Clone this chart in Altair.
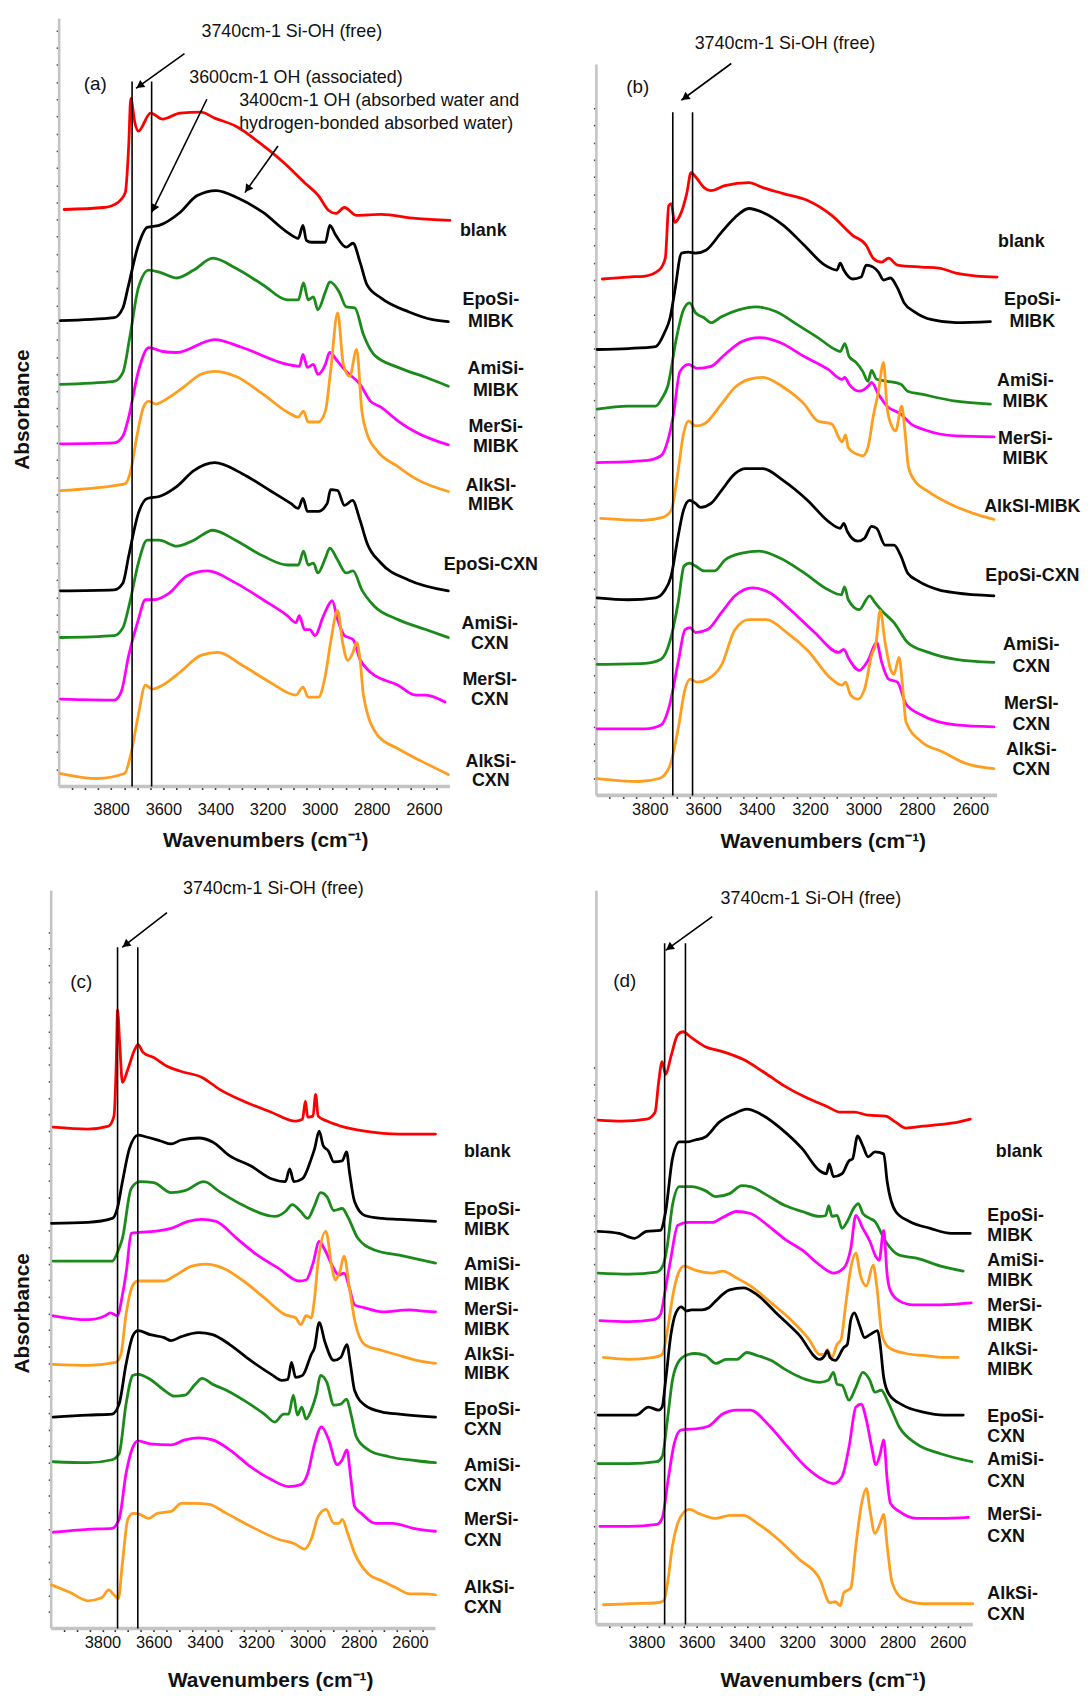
import math
import altair as alt
import pandas as pd

FONT = "Liberation Sans"

SERIES = ["blank", "EpoSi-MIBK", "AmiSi-MIBK", "MerSi-MIBK", "AlkSi-MIBK",
          "EpoSi-CXN", "AmiSi-CXN", "MerSi-CXN", "AlkSi-CXN"]
COLORS = ["#ff0000", "#000000", "#1a8a1a", "#ff00ff", "#ff9d1e",
          "#000000", "#1a8a1a", "#ff00ff", "#ff9d1e"]

# ---------------- panel (a) spectra: (wavenumber, absorbance a.u. incl. offset) ----------------
A_BLANK = [(3981,58.1),(3829,58.3),(3775,58.8),(3746,59.8),(3733,64.5),(3725,69.3),(3709,66.8),(3696,66.0),(3649,67.8),(3603,67.2),(3536,67.8),(3456,67.9),(3403,67.3),(3323,66.5),(3230,64.8),(3137,62.8),(3058,60.8),(3005,59.5),(2965,58.0),(2938,57.7),(2905,58.3),(2858,57.5),(2765,57.6),(2632,57.2),(2500,57.0)]
A_EPO_MIBK = [(3995,46.9),(3789,47.2),(3755,48.2),(3736,50.2),(3696,54.5),(3662,56.3),(3616,56.5),(3536,57.8),(3470,59.5),(3397,60.0),(3310,59.2),(3217,57.8),(3124,55.8),(3082,55.2),(3064,56.5),(3051,55.0),(3031,54.8),(2978,54.8),(2961,56.5),(2938,55.5),(2898,54.3),(2872,54.7),(2845,52.8),(2818,50.5),(2765,49.2),(2659,47.8),(2566,47.0),(2506,46.8)]
A_AMI_MIBK = [(3995,40.5),(3789,40.8),(3755,41.7),(3729,45.2),(3696,50.2),(3656,52.0),(3616,51.8),(3549,51.2),(3483,52.0),(3410,53.2),(3323,52.2),(3217,50.5),(3124,49.0),(3082,49.0),(3062,50.7),(3044,49.0),(3024,49.3),(3007,48.0),(2978,49.8),(2961,50.8),(2925,49.8),(2898,48.3),(2865,48.2),(2832,45.5),(2792,43.5),(2699,42.2),(2593,41.2),(2506,40.3)]
A_MER_MIBK = [(3995,34.5),(3789,34.6),(3755,35.3),(3733,37.2),(3696,41.8),(3656,44.2),(3603,43.8),(3549,43.7),(3403,45.0),(3297,44.2),(3124,42.5),(3078,42.3),(3064,43.5),(3047,42.2),(3024,42.5),(3007,41.5),(2978,42.5),(2962,43.7),(2931,42.8),(2898,41.8),(2845,40.5),(2805,38.8),(2765,38.2),(2699,36.8),(2632,35.7),(2506,34.4)]
A_ALK_MIBK = [(3995,29.8),(3789,30.3),(3746,30.5),(3725,31.8),(3702,35.2),(3676,38.2),(3656,38.8),(3629,38.5),(3589,39.0),(3523,40.2),(3456,41.5),(3403,41.8),(3323,41.3),(3217,39.5),(3124,37.7),(3082,37.2),(3062,37.8),(3044,36.7),(3005,36.7),(2978,37.8),(2958,41.8),(2931,47.7),(2909,42.5),(2885,41.3),(2858,44.0),(2838,37.8),(2818,35.5),(2779,33.8),(2699,32.2),(2632,31.0),(2506,29.7)]
A_EPO_CXN = [(3995,19.7),(3789,19.8),(3755,20.5),(3733,23.2),(3696,27.5),(3662,29.0),(3616,29.2),(3549,30.2),(3483,31.8),(3403,32.6),(3297,31.5),(3191,29.8),(3111,28.5),(3082,28.0),(3064,29.0),(3047,27.7),(3005,27.7),(2971,28.5),(2958,29.9),(2931,29.8),(2905,28.3),(2874,28.8),(2845,26.8),(2818,24.5),(2765,22.5),(2659,20.8),(2506,19.7)]
A_AMI_CXN = [(3995,15.0),(3789,15.2),(3755,16.0),(3729,18.5),(3696,22.5),(3662,24.8),(3616,24.8),(3549,24.2),(3483,24.8),(3410,25.8),(3323,24.8),(3217,23.2),(3124,22.3),(3082,22.3),(3062,23.7),(3044,22.3),(3024,22.5),(3007,21.5),(2978,23.0),(2961,24.0),(2931,22.8),(2898,21.5),(2872,21.7),(2838,19.8),(2792,18.2),(2699,16.8),(2593,15.8),(2506,15.0)]
A_MER_CXN = [(3995,8.8),(3789,8.7),(3762,9.5),(3733,13.2),(3696,16.8),(3669,18.8),(3636,18.8),(3576,19.5),(3510,21.2),(3430,21.7),(3323,20.5),(3217,18.8),(3124,17.2),(3091,16.5),(3078,17.2),(3058,15.8),(3038,15.8),(3018,15.2),(2985,17.2),(2952,18.7),(2931,16.8),(2905,15.2),(2872,14.8),(2845,12.8),(2805,11.5),(2699,10.2),(2632,9.2),(2593,9.2),(2519,8.5)]
A_ALK_CXN = [(3995,1.3),(3855,0.8),(3749,1.3),(3725,3.2),(3696,7.2),(3669,10.2),(3642,9.8),(3603,10.2),(3536,11.5),(3456,13.2),(3390,13.5),(3297,12.2),(3191,10.5),(3091,9.2),(3064,10.0),(3044,9.0),(3005,9.0),(2978,11.2),(2958,14.5),(2931,17.7),(2912,14.5),(2892,12.7),(2872,13.5),(2858,14.5),(2845,12.8),(2832,9.2),(2779,5.2),(2699,3.8),(2606,2.5),(2506,1.2)]

# ---------------- panel (b) ----------------
B_BLANK = [(3978,52.0),(3881,52.2),(3817,52.3),(3765,52.9),(3742,54.1),(3729,59.4),(3720,59.6),(3707,57.7),(3687,58.4),(3661,60.7),(3646,62.7),(3623,62.1),(3597,61.2),(3571,60.9),(3519,61.4),(3429,61.7),(3377,61.2),(3300,60.6),(3209,59.9),(3119,58.4),(3041,56.4),(2990,55.4),(2964,54.1),(2932,53.7),(2906,54.1),(2873,53.4),(2783,53.2),(2718,53.1),(2654,52.6),(2576,52.3),(2500,52.2)]
B_EPO_MIBK = [(3997,44.9),(3881,45.0),(3778,45.2),(3745,46.6),(3724,48.1),(3707,50.7),(3681,54.6),(3655,54.7),(3629,54.6),(3590,54.9),(3532,56.7),(3481,58.2),(3429,59.1),(3377,58.7),(3300,57.4),(3222,55.4),(3145,53.4),(3100,52.9),(3087,53.6),(3074,52.9),(3041,52.0),(3009,52.2),(2990,53.4),(2964,53.2),(2944,52.7),(2925,51.9),(2899,52.1),(2873,51.1),(2848,49.6),(2809,48.7),(2744,47.9),(2654,47.6),(2525,47.7)]
B_AMI_MIBK = [(3997,38.9),(3881,39.2),(3778,39.2),(3752,40.1),(3733,41.2),(3700,46.1),(3674,48.9),(3651,49.6),(3629,48.6),(3597,48.1),(3571,47.6),(3532,48.2),(3468,48.9),(3403,49.2),(3326,48.7),(3248,47.4),(3171,46.1),(3106,44.9),(3087,44.7),(3070,45.5),(3054,44.2),(3028,43.6),(3003,42.7),(2983,41.7),(2970,42.8),(2951,41.9),(2912,41.7),(2860,41.4),(2835,40.7),(2783,40.4),(2654,39.7),(2525,39.4)]
B_MER_MIBK = [(3997,33.5),(3817,33.7),(3758,34.2),(3733,35.7),(3713,38.1),(3687,42.7),(3655,43.4),(3623,43.0),(3571,43.2),(3519,44.4),(3455,45.7),(3390,46.1),(3313,45.6),(3222,44.2),(3132,42.9),(3080,41.9),(3070,42.1),(3054,41.4),(3016,40.7),(2983,41.2),(2970,41.6),(2944,40.4),(2912,39.2),(2860,38.4),(2822,37.4),(2770,36.8),(2654,36.2),(2512,36.1)]
B_ALK_MIBK = [(3984,27.9),(3829,27.7),(3752,28.0),(3720,28.7),(3694,32.7),(3674,36.4),(3655,37.7),(3629,37.2),(3597,37.4),(3532,39.4),(3481,41.1),(3429,41.9),(3377,42.1),(3300,41.1),(3222,39.4),(3171,37.7),(3119,37.4),(3080,35.6),(3067,36.3),(3057,35.0),(3028,34.4),(3003,34.2),(2983,35.1),(2964,38.1),(2944,40.7),(2925,43.6),(2912,39.1),(2893,37.1),(2880,36.7),(2857,39.2),(2845,36.7),(2832,33.1),(2809,31.7),(2757,30.6),(2680,29.4),(2589,28.4),(2512,27.8)]
B_EPO_CXN = [(3997,19.9),(3881,19.7),(3778,19.9),(3745,20.6),(3720,22.1),(3694,26.1),(3674,28.7),(3651,29.7),(3629,29.4),(3610,29.0),(3571,29.4),(3532,30.7),(3481,32.4),(3442,32.9),(3377,32.9),(3300,31.7),(3209,29.7),(3132,27.6),(3087,26.9),(3074,27.4),(3061,26.6),(3022,25.6),(2996,25.9),(2970,27.1),(2951,26.9),(2919,25.2),(2886,25.2),(2860,24.1),(2835,22.4),(2796,21.6),(2718,20.7),(2654,20.4),(2512,20.1)]
B_AMI_CXN = [(3997,13.2),(3817,13.3),(3758,13.7),(3726,15.4),(3694,19.4),(3672,23.1),(3651,23.4),(3629,23.1),(3597,22.6),(3558,22.6),(3519,23.7),(3455,24.4),(3390,24.6),(3313,23.9),(3222,22.4),(3132,20.7),(3083,20.2),(3071,21.0),(3057,19.7),(3016,18.7),(2977,20.1),(2957,19.4),(2932,18.6),(2886,17.4),(2835,15.4),(2757,14.4),(2654,13.7),(2512,13.4)]
B_MER_CXN = [(3997,6.7),(3817,6.7),(3758,7.1),(3726,9.1),(3694,13.4),(3668,16.7),(3649,16.9),(3629,16.4),(3584,16.7),(3532,18.4),(3481,20.1),(3416,20.9),(3351,20.4),(3274,18.7),(3183,16.4),(3093,14.4),(3074,14.7),(3054,13.7),(3016,12.6),(2983,13.6),(2951,15.4),(2932,13.4),(2906,11.7),(2873,11.4),(2841,9.2),(2783,8.1),(2654,7.1),(2512,6.9)]
B_ALK_CXN = [(3997,1.7),(3842,1.4),(3765,1.7),(3726,2.9),(3694,6.7),(3668,10.7),(3649,11.7),(3623,11.4),(3584,11.7),(3532,13.1),(3481,16.7),(3429,17.7),(3364,17.7),(3287,16.4),(3209,14.6),(3119,11.7),(3080,11.1),(3067,11.4),(3048,10.1),(3022,9.7),(2996,10.7),(2970,14.1),(2953,15.4),(2938,18.6),(2919,15.4),(2899,12.7),(2886,12.2),(2867,13.9),(2854,11.1),(2841,7.4),(2783,5.4),(2705,4.4),(2615,3.2),(2512,2.7)]

# ---------------- panel (c) ----------------
C_BLANK = [(3992,50.5),(3857,50.3),(3776,50.6),(3755,51.6),(3746,57.0),(3741,62.3),(3732,58.6),(3722,55.0),(3701,56.3),(3674,58.3),(3661,58.8),(3641,58.0),(3600,57.5),(3546,56.6),(3492,56.1),(3411,55.5),(3343,54.3),(3249,53.1),(3141,52.0),(3046,51.1),(3019,51.3),(3008,53.1),(2999,51.5),(2978,51.6),(2968,53.8),(2958,51.6),(2924,51.1),(2870,50.6),(2776,50.1),(2641,49.8),(2500,49.8)]
C_EPO_MIBK = [(3999,40.8),(3857,40.9),(3762,41.3),(3742,42.3),(3722,45.0),(3695,48.3),(3661,49.7),(3628,49.5),(3573,49.1),(3532,48.8),(3492,49.2),(3424,49.4),(3370,49.0),(3303,47.6),(3222,46.6),(3141,45.3),(3086,45.0),(3069,46.3),(3053,45.0),(3019,45.3),(2985,47.3),(2972,48.3),(2954,50.1),(2938,48.6),(2918,48.1),(2897,47.0),(2864,47.1),(2847,48.0),(2836,46.0),(2816,43.0),(2776,41.6),(2708,41.3),(2641,41.2),(2500,41.0)]
C_AMI_MIBK = [(3992,37.0),(3762,37.0),(3738,38.1),(3722,39.3),(3688,44.3),(3654,45.0),(3600,44.9),(3532,43.9),(3478,44.1),(3404,45.0),(3343,44.0),(3249,42.6),(3127,41.5),(3086,42.0),(3059,42.7),(3026,42.0),(2999,41.3),(2972,42.6),(2949,43.9),(2924,43.5),(2897,42.1),(2864,42.3),(2843,41.5),(2803,39.3),(2735,38.1),(2641,37.6),(2500,36.8)]
C_MER_MIBK = [(3992,31.5),(3857,31.1),(3789,31.5),(3769,31.8),(3742,31.5),(3722,33.6),(3705,36.3),(3688,39.8),(3654,39.9),(3600,40.0),(3532,40.3),(3465,41.0),(3411,41.2),(3357,41.0),(3276,39.3),(3195,37.6),(3114,36.3),(3032,35.0),(3005,35.1),(2978,36.8),(2954,39.0),(2931,38.1),(2904,36.6),(2877,35.6),(2857,35.8),(2836,34.3),(2816,32.6),(2776,32.3),(2708,31.9),(2600,32.1),(2559,32.0),(2500,31.9)]
C_ALK_MIBK = [(3992,26.6),(3857,26.5),(3749,26.8),(3728,27.6),(3708,31.6),(3681,34.6),(3661,35.0),(3627,35.0),(3559,35.0),(3519,35.5),(3451,36.5),(3397,36.7),(3330,36.3),(3249,35.0),(3168,33.3),(3086,31.6),(3046,31.3),(3026,30.6),(3005,31.5),(2985,31.3),(2972,33.3),(2958,37.0),(2928,40.0),(2904,36.3),(2891,35.1),(2873,36.0),(2857,37.5),(2836,34.3),(2816,31.1),(2776,28.6),(2708,28.0),(2641,27.5),(2573,27.0),(2500,26.7)]
C_EPO_CXN = [(3992,21.3),(3857,21.5),(3762,21.6),(3735,22.6),(3708,26.6),(3681,29.5),(3661,30.0),(3614,29.6),(3559,29.3),(3532,29.0),(3492,29.4),(3424,29.8),(3370,29.6),(3303,28.6),(3222,27.0),(3141,25.6),(3100,25.0),(3076,25.1),(3062,26.8),(3046,25.3),(3019,25.5),(2985,27.6),(2972,28.3),(2954,30.8),(2931,28.8),(2897,27.0),(2870,27.3),(2846,28.6),(2832,26.6),(2816,24.0),(2776,22.5),(2708,21.8),(2641,21.6),(2500,21.3)]
C_AMI_CXN = [(3992,16.8),(3857,16.7),(3762,17.0),(3735,17.6),(3708,22.6),(3681,25.5),(3661,25.6),(3614,25.1),(3559,24.0),(3519,23.4),(3478,23.5),(3438,24.6),(3411,25.2),(3370,24.6),(3316,24.0),(3249,23.0),(3168,21.6),(3127,20.8),(3093,21.6),(3073,21.6),(3055,23.5),(3039,21.5),(3022,22.3),(3005,21.1),(2985,22.0),(2965,23.6),(2949,25.5),(2924,24.8),(2897,22.5),(2870,22.6),(2847,23.1),(2830,21.6),(2809,19.3),(2762,18.0),(2681,17.3),(2573,16.9),(2500,16.7)]
C_MER_CXN = [(3992,9.7),(3857,10.0),(3762,10.1),(3735,11.0),(3708,15.6),(3681,18.3),(3661,18.9),(3614,18.6),(3532,18.5),(3478,19.0),(3424,19.2),(3370,19.0),(3303,18.0),(3222,16.3),(3141,15.0),(3073,14.3),(3026,14.5),(2999,15.6),(2972,18.6),(2945,20.3),(2918,19.1),(2884,16.5),(2864,17.0),(2846,18.0),(2830,15.0),(2816,12.3),(2789,11.6),(2735,10.6),(2668,10.6),(2586,10.1),(2500,9.8)]
C_ALK_CXN = [(3999,4.4),(3924,3.6),(3857,2.8),(3803,3.1),(3776,3.9),(3755,3.4),(3738,3.0),(3722,6.6),(3701,11.0),(3681,11.6),(3654,11.5),(3620,11.1),(3586,11.6),(3532,11.8),(3492,12.6),(3438,12.6),(3384,12.5),(3316,11.6),(3222,10.3),(3114,9.0),(3046,8.5),(3012,8.0),(2985,9.0),(2958,11.3),(2927,12.0),(2897,10.6),(2877,10.6),(2864,11.0),(2843,9.6),(2816,7.6),(2762,5.5),(2708,4.8),(2654,4.1),(2600,3.5),(2546,3.5),(2500,3.4)]

# ---------------- panel (d) ----------------
D_BLANK = [(3993,50.8),(3897,50.7),(3800,50.9),(3766,51.6),(3752,54.6),(3738,56.7),(3724,55.4),(3703,57.2),(3676,59.4),(3655,59.7),(3621,59.1),(3566,58.2),(3497,57.7),(3414,56.9),(3331,55.6),(3248,54.2),(3166,53.1),(3083,52.2),(3028,51.6),(2972,51.6),(2917,51.3),(2848,51.2),(2807,50.6),(2766,50.0),(2697,50.2),(2614,50.4),(2559,50.6),(2510,50.9)]
D_EPO_MIBK = [(3993,39.6),(3910,39.4),(3848,38.9),(3800,39.6),(3745,39.7),(3724,41.6),(3697,46.9),(3669,48.6),(3641,48.6),(3607,48.8),(3566,49.1),(3510,50.6),(3455,51.4),(3400,51.9),(3345,51.4),(3262,49.9),(3179,47.9),(3110,45.7),(3083,45.4),(3072,46.4),(3055,45.1),(3021,45.4),(2993,46.7),(2979,46.9),(2959,49.2),(2938,48.2),(2917,47.1),(2890,47.6),(2855,47.4),(2841,44.6),(2807,41.6),(2752,40.6),(2669,39.9),(2586,39.4),(2510,39.4)]
D_AMI_MIBK = [(3993,35.4),(3869,35.3),(3759,35.5),(3734,36.2),(3717,38.2),(3697,42.2),(3669,44.1),(3621,44.1),(3566,43.7),(3524,43.1),(3469,43.4),(3421,44.2),(3386,44.1),(3317,43.2),(3248,42.2),(3179,41.6),(3110,41.1),(3086,41.2),(3074,42.2),(3061,41.1),(3041,41.2),(3021,39.9),(3000,40.6),(2975,41.9),(2956,42.4),(2938,41.4),(2910,40.9),(2890,40.6),(2848,38.6),(2793,37.2),(2724,36.9),(2628,36.1),(2538,35.6)]
D_MER_MIBK = [(3986,30.6),(3869,30.5),(3772,30.7),(3745,31.2),(3724,33.9),(3703,36.9),(3676,40.2),(3634,40.5),(3538,40.5),(3497,41.0),(3441,41.6),(3386,41.4),(3317,40.2),(3248,38.8),(3179,37.7),(3110,36.2),(3055,35.4),(3014,35.9),(2986,37.9),(2966,41.2),(2938,39.9),(2910,38.6),(2887,37.1),(2873,36.7),(2855,39.7),(2841,35.2),(2828,33.6),(2793,32.6),(2738,32.2),(2628,32.2),(2506,32.4)]
D_ALK_MIBK = [(3972,26.9),(3869,26.7),(3772,26.9),(3738,27.2),(3717,29.6),(3697,32.9),(3676,35.2),(3651,36.1),(3607,35.7),(3538,35.4),(3497,35.6),(3441,34.9),(3386,34.1),(3303,32.4),(3221,30.6),(3152,28.7),(3110,27.2),(3090,27.2),(3080,27.7),(3062,26.9),(3041,28.2),(3025,28.7),(3007,32.1),(2986,35.9),(2966,37.4),(2948,35.2),(2924,34.1),(2897,36.2),(2883,34.2),(2862,29.2),(2834,27.9),(2766,27.3),(2697,27.1),(2614,26.9),(2559,26.9)]
D_EPO_CXN = [(3993,21.1),(3897,21.1),(3841,21.1),(3793,21.9),(3752,21.6),(3738,21.9),(3724,24.6),(3703,29.2),(3683,31.4),(3662,32.0),(3641,31.6),(3621,31.7),(3579,31.7),(3552,31.9),(3524,32.6),(3469,33.7),(3414,33.9),(3359,33.2),(3276,31.2),(3193,29.2),(3110,26.7),(3090,27.1),(3080,27.6),(3069,26.9),(3048,26.6),(3014,27.9),(3000,28.2),(2986,30.7),(2972,31.4),(2952,30.2),(2931,28.9),(2910,29.2),(2879,29.6),(2869,28.2),(2855,24.9),(2834,23.2),(2779,22.1),(2697,21.4),(2614,21.1),(2538,21.1)]
D_AMI_CXN = [(3993,16.2),(3869,16.2),(3759,16.4),(3738,16.9),(3717,20.6),(3697,24.6),(3669,26.6),(3634,27.2),(3607,27.3),(3566,27.1),(3524,26.3),(3483,26.7),(3441,26.7),(3400,27.4),(3359,27.1),(3303,26.6),(3248,25.7),(3166,24.7),(3110,24.4),(3076,24.6),(3055,25.4),(3041,24.2),(3021,24.1),(2993,22.6),(2966,23.9),(2938,25.4),(2910,24.6),(2890,23.4),(2865,23.6),(2834,22.2),(2793,19.9),(2724,18.2),(2628,17.2),(2503,16.4)]
D_MER_CXN = [(3986,9.9),(3869,9.9),(3759,10.1),(3738,10.7),(3714,14.6),(3690,18.2),(3662,19.6),(3607,19.7),(3552,20.0),(3497,21.2),(3441,21.6),(3386,21.6),(3317,20.2),(3248,18.2),(3166,15.9),(3097,14.6),(3055,14.2),(3021,14.9),(2993,17.9),(2966,21.9),(2945,22.2),(2924,20.6),(2903,17.9),(2886,16.1),(2869,17.2),(2855,18.6),(2841,14.6),(2828,12.2),(2793,11.4),(2724,10.7),(2628,10.7),(2517,10.8)]
D_ALK_CXN = [(3972,2.0),(3869,2.1),(3759,2.2),(3731,2.4),(3714,4.6),(3697,7.9),(3676,10.2),(3655,11.2),(3628,11.6),(3593,11.2),(3524,10.7),(3469,11.0),(3414,11.0),(3359,10.2),(3276,8.6),(3193,6.6),(3110,4.6),(3069,2.2),(3048,2.3),(3028,1.9),(3014,3.2),(2986,3.7),(2966,7.9),(2945,11.9),(2924,13.7),(2910,11.6),(2890,9.2),(2869,10.2),(2855,11.1),(2841,7.9),(2821,4.2),(2779,2.6),(2697,2.1),(2614,2.1),(2500,2.1)]

# ---------------- reference lines (wavenumber) ----------------
A_VLINES = [3720, 3645]
B_VLINES = [3714, 3640]
C_VLINES = [3741, 3662]
D_VLINES = [3728, 3645]

# ---------------- sample labels: (text line, wavenumber, absorbance) ----------------
A_LABELS = [("blank", 2372, 55.9), ("EpoSi-", 2343, 49.0), ("MIBK", 2343, 46.8),
            ("AmiSi-", 2324, 42.0), ("MIBK", 2324, 39.8), ("MerSi-", 2324, 36.2), ("MIBK", 2324, 34.2),
            ("AlkSI-", 2343, 30.3), ("MIBK", 2343, 28.3), ("EpoSi-CXN", 2343, 22.3),
            ("AmiSi-", 2347, 16.4), ("CXN", 2347, 14.3), ("MerSI-", 2347, 10.7), ("CXN", 2347, 8.7),
            ("AlkSi-", 2343, 2.5), ("CXN", 2343, 0.5)]
B_LABELS = [("blank", 2409, 55.7), ("EpoSi-", 2368, 49.9), ("MIBK", 2368, 47.7),
            ("AmiSi-", 2394, 41.7), ("MIBK", 2394, 39.6), ("MerSi-", 2394, 35.9), ("MIBK", 2394, 33.9),
            ("AlkSI-MIBK", 2368, 29.0), ("EpoSi-CXN", 2368, 22.1),
            ("AmiSi-", 2372, 15.1), ("CXN", 2372, 12.9), ("MerSI-", 2372, 9.2), ("CXN", 2372, 7.1),
            ("AlkSi-", 2372, 4.6), ("CXN", 2372, 2.6)]
C_LABELS = [("blank", 2389, 48.0), ("EpoSi-", 2389, 42.1), ("MIBK", 2389, 40.1),
            ("AmiSi-", 2389, 36.6), ("MIBK", 2389, 34.6), ("MerSi-", 2389, 32.1), ("MIBK", 2389, 30.1),
            ("AlkSi-", 2389, 27.5), ("MIBK", 2389, 25.6), ("EpoSi-", 2389, 22.0), ("CXN", 2389, 20.0),
            ("AmiSi-", 2389, 16.4), ("CXN", 2389, 14.4), ("MerSi-", 2389, 10.9), ("CXN", 2389, 8.8),
            ("AlkSi-", 2389, 4.1), ("CXN", 2389, 2.1)]
D_LABELS = [("blank", 2408, 47.6), ("EpoSi-", 2442, 41.1), ("MIBK", 2442, 39.1),
            ("AmiSi-", 2442, 36.6), ("MIBK", 2442, 34.6), ("MerSi-", 2442, 32.1), ("MIBK", 2442, 30.1),
            ("AlkSi-", 2442, 27.6), ("MIBK", 2442, 25.6), ("EpoSi-", 2442, 20.9), ("CXN", 2442, 18.9),
            ("AmiSi-", 2442, 16.6), ("CXN", 2442, 14.4), ("MerSi-", 2442, 11.0), ("CXN", 2442, 8.8),
            ("AlkSi-", 2442, 3.1), ("CXN", 2442, 1.0)]

# ---------------- annotations: (text, wavenumber, absorbance, align) ----------------
A_NOTES = [("3740cm-1 Si-OH (free)", 3107, 76.0, "center"),
           ("3600cm-1 OH (associated)", 3091, 71.3, "center"),
           ("3400cm-1 OH (absorbed water and", 3309, 69.0, "left"),
           ("hydrogen-bonded absorbed water)", 3309, 66.7, "left"),
           ("(a)", 3861, 70.7, "center")]
B_NOTES = [("3740cm-1 Si-OH (free)", 3294, 75.7, "center"), ("(b)", 3845, 71.3, "center")]
C_NOTES = [("3740cm-1 Si-OH (free)", 3133, 74.5, "center"), ("(c)", 3883, 65.1, "center")]
D_NOTES = [("3740cm-1 Si-OH (free)", 3145, 73.1, "center"), ("(d)", 3887, 64.8, "center")]

# arrows: (from wn, from abs, to wn, to abs)
A_ARROWS = [(3519, 73.8, 3705, 70.3), (3433, 69.2, 3645, 57.8), (3160, 64.5, 3287, 59.8)]
B_ARROWS = [(3495, 73.7, 3682, 70.0)]
C_ARROWS = [(3548, 72.1, 3723, 68.6)]
D_ARROWS = [(3538, 71.3, 3724, 67.9)]

PANELS = {
    "a": dict(curves=[A_BLANK, A_EPO_MIBK, A_AMI_MIBK, A_MER_MIBK, A_ALK_MIBK, A_EPO_CXN, A_AMI_CXN, A_MER_CXN, A_ALK_CXN],
              vlines=A_VLINES, vtop=71.0, labels=A_LABELS, notes=A_NOTES, arrows=A_ARROWS),
    "b": dict(curves=[B_BLANK, B_EPO_MIBK, B_AMI_MIBK, B_MER_MIBK, B_ALK_MIBK, B_EPO_CXN, B_AMI_CXN, B_MER_CXN, B_ALK_CXN],
              vlines=B_VLINES, vtop=68.8, labels=B_LABELS, notes=B_NOTES, arrows=B_ARROWS),
    "c": dict(curves=[C_BLANK, C_EPO_MIBK, C_AMI_MIBK, C_MER_MIBK, C_ALK_MIBK, C_EPO_CXN, C_AMI_CXN, C_MER_CXN, C_ALK_CXN],
              vlines=C_VLINES, vtop=68.6, labels=C_LABELS, notes=C_NOTES, arrows=C_ARROWS),
    "d": dict(curves=[D_BLANK, D_EPO_MIBK, D_AMI_MIBK, D_MER_MIBK, D_ALK_MIBK, D_EPO_CXN, D_AMI_CXN, D_MER_CXN, D_ALK_CXN],
              vlines=D_VLINES, vtop=68.6, labels=D_LABELS, notes=D_NOTES, arrows=D_ARROWS),
}

# ---------------- layout / style ----------------
GEOM = {
    "a": dict(left=4030.5, width=401.5, top=77.3, height=773, ytop=77.3, yoff=-8, ytick=1.73, nyt=44,
              labpad=20, xtx=215.5, xty=54.5, ytitle=True, ytx=-36.5, yty=393, align="center"),
    "b": dict(left=4000, width=403.5, top=78.2, height=782, ytop=73.6, yoff=0, ytick=1.73, nyt=40,
              labpad=11, xtx=228, xty=46, ytitle=False, align="center"),
    "c": dict(left=4000, width=387, top=75.3, height=753, ytop=74.3, yoff=0, ytick=1.67, nyt=42,
              labpad=11, xtx=220.5, xty=52, ytitle=True, ytx=-28.5, yty=435, align="left"),
    "d": dict(left=4000, width=379, top=74.9, height=749, ytop=73.9, yoff=0, ytick=1.65, nyt=34,
              labpad=15, xtx=228, xty=56, ytitle=False, align="left"),
}
XTICKS = list(range(3950, 2500, -50))
AXIS_GREY = "#c4c4c4"


def build(key):
    g = GEOM[key]
    p = PANELS[key]
    ppc = g["width"] / (g["left"] - 2500)
    ppa = g["height"] / g["top"]
    xs = alt.Scale(domain=[g["left"], 2500], nice=False, zero=False)
    ys = alt.Scale(domain=[0, g["top"]], nice=False, zero=False)
    xaxis = alt.Axis(values=XTICKS, format="d",
                     labelExpr="datum.value % 200 === 0 ? datum.label : ''",
                     domain=False, grid=False, ticks=True, tickSize=3, tickWidth=1.6, tickColor="#333333",
                     labelFont=FONT, labelFontSize=16.5, labelColor="#111111", labelPadding=g["labpad"],
                     labelBaseline="middle", labelOverlap=False, labelFlush=False,
                     title="Wavenumbers (cm⁻¹)", titleFont=FONT, titleFontSize=21, titleFontWeight="bold",
                     titleColor="#111111", titleX=g["xtx"], titleY=g["xty"], titleAlign="center",
                     titleBaseline="middle")
    ykw = dict(values=[round(g["ytick"] * i, 3) for i in range(1, g["nyt"] + 1)],
               domain=False, grid=False, labels=False, ticks=True, tickSize=3, tickWidth=1.6,
               tickColor="#444444", offset=g["yoff"])
    if g["ytitle"]:
        ykw.update(title="Absorbance", titleFont=FONT, titleFontSize=21, titleFontWeight="bold",
                   titleColor="#111111", titleX=g["ytx"], titleY=g["yty"], titleAngle=270,
                   titleAlign="center", titleBaseline="middle")
    else:
        ykw.update(title=None)
    yaxis = alt.Axis(**ykw)
    X = alt.X("wn:Q", scale=xs, axis=xaxis)
    Y = alt.Y("ab:Q", scale=ys, axis=yaxis)

    layers = []
    # axis lines
    layers.append(alt.Chart(pd.DataFrame([{"wn": 4000, "ab": 0, "ab2": g["ytop"]}]))
                  .mark_rule(color=AXIS_GREY, strokeWidth=2.6)
                  .encode(x=X, y=Y, y2=alt.Y2("ab2:Q")))
    layers.append(alt.Chart(pd.DataFrame([{"wn": 4000, "wn2": 2500, "ab": 0}]))
                  .mark_rule(color=AXIS_GREY, strokeWidth=3.6)
                  .encode(x=X, x2=alt.X2("wn2:Q"), y=Y))
    # spectra
    rows = []
    for name, pts in zip(SERIES, p["curves"]):
        for i, (w, a) in enumerate(pts):
            rows.append({"series": name, "i": i, "wn": w, "ab": a})
    layers.append(alt.Chart(pd.DataFrame(rows))
                  .mark_line(strokeWidth=2.8, strokeJoin="round", strokeCap="round", interpolate="monotone")
                  .encode(x=X, y=Y,
                          color=alt.Color("series:N", scale=alt.Scale(domain=SERIES, range=COLORS), legend=None),
                          order=alt.Order("i:Q")))
    # reference vertical lines
    layers.append(alt.Chart(pd.DataFrame([{"wn": v, "ab": 0, "ab2": p["vtop"]} for v in p["vlines"]]))
                  .mark_rule(color="#000000", strokeWidth=1.6)
                  .encode(x=X, y=Y, y2=alt.Y2("ab2:Q")))
    # arrows
    arr = pd.DataFrame([{"wn": a[0], "ab": a[1], "wn2": a[2], "ab2": a[3]} for a in p["arrows"]])
    layers.append(alt.Chart(arr).mark_rule(color="#000000", strokeWidth=1.6)
                  .encode(x=X, y=Y, x2=alt.X2("wn2:Q"), y2=alt.Y2("ab2:Q")))
    heads = []
    for (w0, a0, w1, a1) in p["arrows"]:
        dx = (w0 - w1) * ppc
        dy = (a0 - a1) * ppa
        L = math.hypot(dx, dy)
        ux, uy = dx / L, dy / L
        ang = math.degrees(math.atan2(ux, -uy)) % 360
        heads.append({"wn": w1 + 4.5 * ux / ppc, "ab": a1 + 4.5 * uy / ppa, "ang": ang})
    layers.append(alt.Chart(pd.DataFrame(heads))
                  .mark_point(shape="triangle-up", filled=True, size=80, color="#000000", opacity=1)
                  .encode(x=X, y=Y, angle=alt.Angle("ang:Q", scale=None)))
    # annotation texts
    for (txt, w, a, al) in p["notes"]:
        fs = 19 if txt.startswith("(") and len(txt) == 3 else 18
        layers.append(alt.Chart(pd.DataFrame([{"wn": w, "ab": a, "t": txt}]))
                      .mark_text(font=FONT, fontSize=fs, color="#111111", align=al, baseline="middle")
                      .encode(x=X, y=Y, text="t:N"))
    # sample labels
    lab = pd.DataFrame([{"t": t, "wn": w, "ab": a} for (t, w, a) in p["labels"]])
    layers.append(alt.Chart(lab)
                  .mark_text(font=FONT, fontSize=18, fontWeight="bold", color="#111111",
                             align=g["align"], baseline="middle")
                  .encode(x=X, y=Y, text="t:N"))
    return alt.layer(*layers).properties(width=g["width"], height=g["height"])


chart = (alt.concat(build("a"), build("b"), build("c"), build("d"),
                    columns=2, spacing={"row": 86, "column": 147}, bounds="flush", align="each")
         .resolve_scale(x="independent", y="independent", color="independent")
         .properties(padding={"left": 3.5, "top": 3, "right": 0, "bottom": 0})
         .configure_view(stroke=None))

chart.save("out.html", embed_options={"renderer": "svg", "actions": False})
